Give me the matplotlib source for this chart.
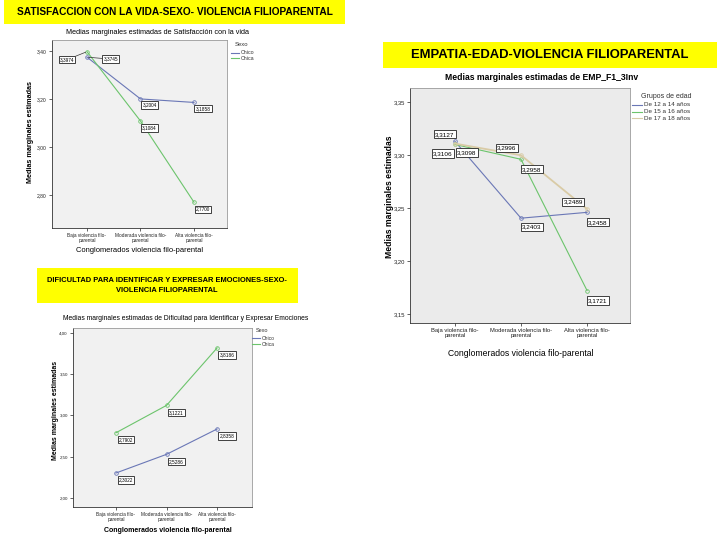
import matplotlib
matplotlib.use("Agg")
import matplotlib.pyplot as plt
from matplotlib.patches import Rectangle
from matplotlib.lines import Line2D

W, H = 720, 540

# ---------------- data ----------------
categories = ["Baja violencia filo-\nparental", "Moderada violencia filo-\nparental", "Alta violencia filo-\nparental"]

# Chart 1: Satisfacción con la vida por sexo
sat_groups = ["Chico", "Chica"]
sat_chico = [3.3745, 3.2004, 3.1858]
sat_chica = [3.3974, 3.1084, 2.7700]
sat_yticks = [2.80, 3.00, 3.20, 3.40]

# Chart 2: Empatía por grupo de edad
emp_groups = ["De 12 a 14 años", "De 15 a 16 años", "De 17 a 18 años"]
emp_12_14 = [3.3127, 3.2403, 3.2458]
emp_15_16 = [3.3098, 3.2958, 3.1721]
emp_17_18 = [3.3106, 3.2996, 3.2489]
emp_yticks = [3.15, 3.20, 3.25, 3.30, 3.35]

# Chart 3: Dificultad para identificar y expresar emociones por sexo
dif_groups = ["Chico", "Chica"]
dif_chico = [2.3022, 2.5286, 2.8358]
dif_chica = [2.7902, 3.1221, 3.8186]
dif_yticks = [2.00, 2.50, 3.00, 3.50, 4.00]

# ---------------- helpers ----------------
BLUE = "#6a77b6"
GREEN = "#6cc46c"
TAN = "#d9cba6"
SANS = ["Liberation Sans", "DejaVu Sans"]
plt.rcParams["font.family"] = SANS

fig = plt.figure(figsize=(W / 100, H / 100), dpi=100)
fig.patch.set_facecolor("white")


def rect(l, t, r, b):
    return [l / W, 1 - b / H, (r - l) / W, (b - t) / H]


def fx(x):
    return x / W


def fy(y):
    return 1 - y / H


def ybox(l, t, r, b):
    fig.patches.append(Rectangle((fx(l), fy(b)), (r - l) / W, (b - t) / H,
                                 transform=fig.transFigure, facecolor="#ffff00",
                                 edgecolor="none", zorder=0))


def comma(v, d=2):
    return f"{v:.{d}f}".replace(".", ",")


def panel(r, xlim, ylim, yticks, face, tfs, cfs):
    ax = fig.add_axes(rect(*r))
    ax.set_facecolor(face)
    ax.set_xlim(*xlim)
    ax.set_ylim(*ylim)
    ax.set_xticks(range(len(categories)))
    ax.set_xticklabels(categories, fontsize=cfs, linespacing=0.9)
    ax.set_yticks(yticks)
    ax.set_yticklabels([comma(v) for v in yticks], fontsize=tfs)
    ax.tick_params(length=2.5, width=0.5, pad=1.2, colors="#222222")
    for s in ["top", "right"]:
        ax.spines[s].set_color("#9a9a9a")
        ax.spines[s].set_linewidth(0.6)
    for s in ["left", "bottom"]:
        ax.spines[s].set_color("#333333")
        ax.spines[s].set_linewidth(0.6)
    return ax


def series(ax, vals, color, offs, fs, lw=0.8, leaders=()):
    x = list(range(len(vals)))
    ax.plot(x, vals, color=color, lw=lw, marker="o", ms=2.6, mfc="none",
            mec=color, mew=0.6, zorder=3)
    for i, v in enumerate(vals):
        dx, dy = offs[i]
        kw = {}
        if i in leaders:
            kw["arrowprops"] = dict(arrowstyle="-", color="#333333", lw=0.5,
                                    shrinkA=0, shrinkB=1)
        ax.annotate(comma(v, 4), (i, v), xytext=(dx * 0.72, -dy * 0.72),
                    textcoords="offset points", ha="center", va="center",
                    fontsize=fs, zorder=5,
                    bbox=dict(boxstyle="square,pad=0.25", fc="white",
                              ec="#222222", lw=0.6), **kw)


def legend(title, x, y, names, colors, dy, fs, tx, llen):
    fig.text(fx(x), fy(y), title, fontsize=fs, ha="left", va="center", color="#333333")
    for k, (n, c) in enumerate(zip(names, colors)):
        yy = y + dy * (k + 1) + 2
        fig.add_artist(Line2D([fx(tx - llen - 2), fx(tx - 2)], [fy(yy), fy(yy)],
                              transform=fig.transFigure, color=c, lw=0.8))
        fig.text(fx(tx), fy(yy), n, fontsize=fs * 0.9, ha="left", va="center",
                 color="#333333", clip_on=False)


# ---------------- yellow headings ----------------
ybox(4, 0, 345, 24)
fig.text(fx(175), fy(12), "SATISFACCION CON LA VIDA-SEXO- VIOLENCIA FILIOPARENTAL",
         family=SANS, weight="bold", fontsize=7.3, ha="center", va="center")
ybox(383, 42, 717, 68)
fig.text(fx(550), fy(55), "EMPATIA-EDAD-VIOLENCIA FILIOPARENTAL",
         family=SANS, weight="bold", fontsize=9.4, ha="center", va="center")
ybox(37, 268, 298, 303)
fig.text(fx(167), fy(285.5),
         "DIFICULTAD PARA IDENTIFICAR Y EXPRESAR EMOCIONES-SEXO-\nVIOLENCIA FILIOPARENTAL",
         family=SANS, weight="bold", fontsize=5.4, ha="center", va="center",
         linespacing=1.45)

# ---------------- chart 1 ----------------
ax1 = panel((52, 40, 227, 228), (-0.654, 2.617), (2.6625, 3.446), sat_yticks,
            "#f1f1f1", 3.6, 3.4)
series(ax1, sat_chico, BLUE, [(24, 2), (9, 6), (9, 6)], 3.4, leaders=(0,))
series(ax1, sat_chica, GREEN, [(-20, 8), (9, 7), (9, 7)], 3.4, leaders=(0,))
fig.text(fx(158), fy(33), "Medias marginales estimadas de Satisfacción con la vida",
         fontsize=5.2, ha="center", va="center")
fig.text(fx(30), fy(132), "Medias marginales estimadas", fontsize=5.2,
         weight="bold", rotation=90, ha="center", va="center")
fig.text(fx(140), fy(251), "Conglomerados violencia filo-parental", fontsize=5.4,
         ha="center", va="center")
legend("Sexo", 235, 45, sat_groups, [BLUE, GREEN], 5.5, 4.2, 241, 8)

# ---------------- chart 2 ----------------
ax2 = panel((410, 88, 630, 323), (-0.68, 2.65), (3.1415, 3.363), emp_yticks,
            "#ebebeb", 4.2, 4.2)
series(ax2, emp_12_14, BLUE, [(-10, -7), (11, 9), (11, 10)], 4.6)
series(ax2, emp_15_16, GREEN, [(12, 8), (11, 10), (11, 10)], 4.6)
series(ax2, emp_17_18, TAN, [(-12, 10), (-14, -7), (-14, -7)], 4.6, lw=1.3)
fig.text(fx(542), fy(78), "Medias marginales estimadas de EMP_F1_3Inv",
         fontsize=6.2, weight="bold", ha="center", va="center")
fig.text(fx(389), fy(197), "Medias marginales estimadas", fontsize=6.2,
         weight="bold", rotation=90, ha="center", va="center")
fig.text(fx(521), fy(353), "Conglomerados violencia filo-parental", fontsize=6.2,
         ha="center", va="center")
legend("Grupos de edad", 641, 96, emp_groups, [BLUE, GREEN, TAN], 6.8, 5.0, 644, 10)

# ---------------- chart 3 ----------------
ax3 = panel((73, 328, 252, 507), (-0.85, 2.69), (1.89, 4.06), dif_yticks,
            "#f1f1f1", 3.2, 3.4)
series(ax3, dif_chico, BLUE, [(10, 7), (10, 7), (10, 7)], 3.4)
series(ax3, dif_chica, GREEN, [(10, 7), (10, 7), (10, 7)], 3.4)
fig.text(fx(186), fy(318),
         "Medias marginales estimadas de Dificultad para Identificar y Expresar Emociones",
         fontsize=4.9, ha="center", va="center")
fig.text(fx(55), fy(410), "Medias marginales estimadas", fontsize=5.0,
         weight="bold", rotation=90, ha="center", va="center")
fig.text(fx(168), fy(530), "Conglomerados violencia filo-parental", fontsize=5.0,
         weight="bold", ha="center", va="center")
legend("Sexo", 256, 330, dif_groups, [BLUE, GREEN], 6, 4.0, 262, 8)

fig.savefig("out.png", dpi=100, facecolor="white")
